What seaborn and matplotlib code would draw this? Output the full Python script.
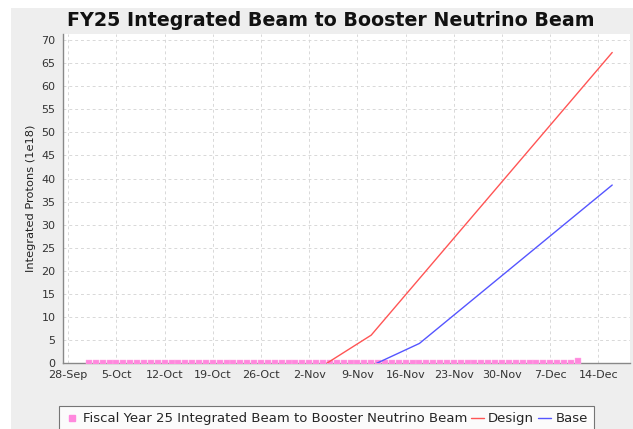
import pandas as pd
import numpy as np
import matplotlib.pyplot as plt
import matplotlib.dates as mdates
import seaborn as sns
from matplotlib.lines import Line2D
from matplotlib.patches import Rectangle

# ---- data ----
beam_dates = pd.date_range('2024-10-01', '2024-12-11', freq='D')
beam_values = [0.15, 0.15, 0.15, 0.15, 0.15, 0.15, 0.15, 0.15, 0.15, 0.15,
               0.15, 0.15, 0.15, 0.15, 0.15, 0.15, 0.15, 0.15, 0.15, 0.15,
               0.15, 0.15, 0.15, 0.15, 0.15, 0.15, 0.15, 0.15, 0.15, 0.15,
               0.15, 0.15, 0.15, 0.15, 0.15, 0.15, 0.15, 0.15, 0.15, 0.15,
               0.15, 0.15, 0.15, 0.15, 0.15, 0.15, 0.15, 0.15, 0.15, 0.15,
               0.15, 0.15, 0.15, 0.15, 0.15, 0.15, 0.15, 0.15, 0.15, 0.15,
               0.15, 0.15, 0.15, 0.15, 0.15, 0.15, 0.15, 0.15, 0.15, 0.15,
               0.15, 0.45]

design_dates = pd.to_datetime(['2024-11-04 13:00', '2024-11-11 00:00', '2024-12-16 00:00'])
design_values = [0.0, 6.1, 67.3]

base_dates = pd.to_datetime(['2024-11-11 19:00', '2024-11-18 00:00', '2024-12-16 00:00'])
base_values = [0.0, 4.3, 38.6]

tick_dates = pd.date_range('2024-09-28', '2024-12-14', freq='7D')

PINK = '#FF88DD'
RED = '#FF5555'
BLUE = '#5555FF'

sns.set_style('white')
plt.rcParams['font.family'] = ['DejaVu Sans']

fig = plt.figure(figsize=(6.33, 4.29), dpi=100)
fig.patch.set_facecolor('white')
# grey chart panel
fig.patches.append(Rectangle((11 / 633, 0), 1, 1 - 8 / 429, transform=fig.transFigure,
                             facecolor='#EEEEEE', edgecolor='none', zorder=-10))

ax = fig.add_axes([62.5 / 633, 65.7 / 429, (630 - 62.5) / 633, (363.3 - 34) / 429])
ax.set_facecolor('white')

beam_df = pd.DataFrame({'date': beam_dates, 'value': beam_values})
design_df = pd.DataFrame({'date': design_dates, 'value': design_values})
base_df = pd.DataFrame({'date': base_dates, 'value': base_values})

sns.scatterplot(data=beam_df, x='date', y='value', ax=ax, marker='s', s=25,
                color=PINK, edgecolor='#FFB0E8', linewidth=0.3, zorder=3)
sns.lineplot(data=design_df, x='date', y='value', ax=ax, color=RED, linewidth=1.0, zorder=4)
sns.lineplot(data=base_df, x='date', y='value', ax=ax, color=BLUE, linewidth=1.0, zorder=4)

ax.set_xlim(pd.Timestamp('2024-09-27 04:00'), pd.Timestamp('2024-12-18 14:00'))
ax.set_ylim(0, 71.3)
ax.set_xticks(tick_dates)
ax.xaxis.set_major_formatter(mdates.DateFormatter('%-d-%b'))
ax.set_yticks(np.arange(0, 75, 5))

ax.grid(True, color='#D8D8D8', linestyle=(0, (3, 3)), linewidth=0.7)
for side in ['top', 'right']:
    ax.spines[side].set_visible(False)
for side in ['left', 'bottom']:
    ax.spines[side].set_color('#888888')
    ax.spines[side].set_linewidth(1.0)
ax.tick_params(axis='both', labelsize=8, length=3, color='#888888', labelcolor='#333333', pad=2)

ax.set_xlabel('')
ax.set_ylabel('Integrated Protons (1e18)', fontsize=8.2, color='#222222', labelpad=4)

fig.text(330.5 / 633, 1 - 20 / 429, 'FY25 Integrated Beam to Booster Neutrino Beam',
         ha='center', va='center', fontsize=13.7, fontweight='bold', color='#111111')

handles = [
    Line2D([], [], marker='s', linestyle='none', color=PINK, markersize=4.5),
    Line2D([], [], color=RED, linewidth=1.0),
    Line2D([], [], color=BLUE, linewidth=1.0),
]
labels = ['Fiscal Year 25 Integrated Beam to Booster Neutrino Beam', 'Design', 'Base']
leg = fig.legend(handles, labels, loc='upper left', bbox_to_anchor=(59 / 633, 1 - 405.7 / 429),
                 ncol=3, fontsize=9.5, frameon=True, fancybox=False, borderaxespad=0,
                 handlelength=1.0, handletextpad=0.3, columnspacing=0.3, borderpad=0.5)
leg.get_frame().set_edgecolor('#555555')
leg.get_frame().set_linewidth(0.8)

fig.savefig('out.png', dpi=100)
